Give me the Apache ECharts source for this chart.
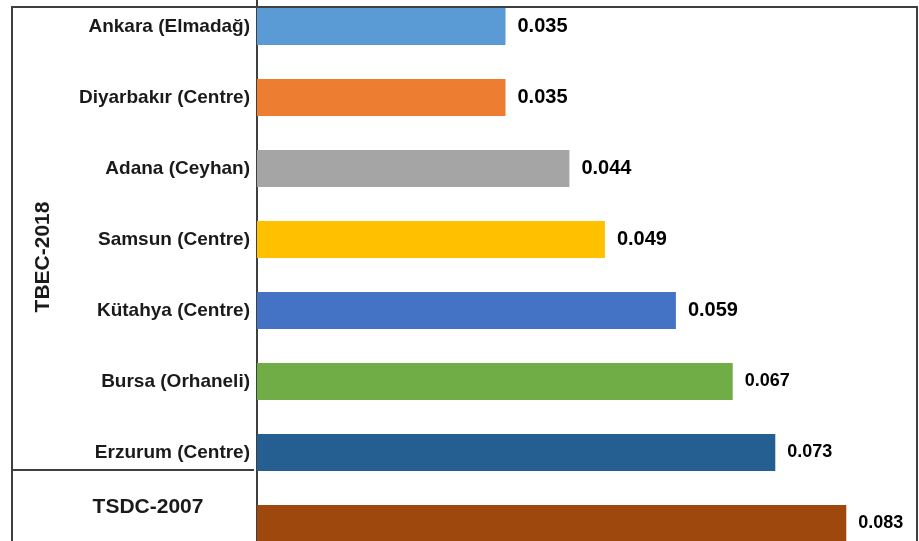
<!DOCTYPE html>
<html>
<head>
<meta charset="utf-8">
<script src="https://cdn.jsdelivr.net/npm/echarts@6/dist/echarts.min.js"></script>
<style>
  html, body { margin: 0; padding: 0; background: #fff; }
  #chart { width: 919px; height: 541px; }
</style>
</head>
<body>
<div id="chart"></div>
<script>
// Site categories, top to bottom
const categories = [
  'Ankara (Elmadağ)',
  'Diyarbakır (Centre)',
  'Adana (Ceyhan)',
  'Samsun (Centre)',
  'Kütahya (Centre)',
  'Bursa (Orhaneli)',
  'Erzurum (Centre)',
  ''
];
// Values per site
const values = [0.035, 0.035, 0.044, 0.049, 0.059, 0.067, 0.073, 0.083];
// Group labels
const groupTop = 'TBEC-2018';
const groupBottom = 'TSDC-2007';

const palette = ['#5B9BD5', '#ED7D31', '#A5A5A5', '#FFC000', '#4472C4', '#70AD47', '#255E91', '#9E480E'];
const frameColor = '#3f3f3f';
const font = '"Liberation Sans", Arial, sans-serif';

const chart = echarts.init(document.getElementById('chart'), null, { renderer: 'canvas' });

const seriesData = values.map((v, i) => ({
  value: v,
  itemStyle: { color: palette[i] },
  label: { fontSize: i >= 5 ? 18 : 20 }
}));

chart.setOption({
  animation: false,
  backgroundColor: '#ffffff',
  grid: {
    left: 257, top: -9, width: 710, height: 568,
    containLabel: false, outerBoundsMode: 'none'
  },
  xAxis: {
    type: 'value', min: 0, max: 0.1, show: false
  },
  yAxis: {
    type: 'category',
    data: categories,
    inverse: true,
    offset: 3,
    axisLine: { show: true, lineStyle: { color: frameColor, width: 2 } },
    axisTick: { show: false },
    axisLabel: {
      margin: 4,
      color: '#1a1a1a',
      fontFamily: font,
      fontWeight: 'bold',
      fontSize: 19
    }
  },
  series: [{
    type: 'bar',
    data: seriesData,
    barWidth: 37,
    label: {
      show: true,
      position: 'right',
      distance: 12,
      color: '#000',
      fontFamily: font,
      fontWeight: 'bold',
      formatter: p => p.value.toFixed(3)
    }
  }],
  graphic: [
    // outer frame
    { type: 'line', z: 100, shape: { x1: 12, y1: 7, x2: 918, y2: 7 }, style: { stroke: frameColor, lineWidth: 2 } },
    { type: 'line', z: 100, shape: { x1: 12, y1: 6, x2: 12, y2: 541 }, style: { stroke: frameColor, lineWidth: 2 } },
    { type: 'line', z: 100, shape: { x1: 917, y1: 6, x2: 917, y2: 541 }, style: { stroke: frameColor, lineWidth: 2 } },
    // divider between groups
    { type: 'line', z: 100, shape: { x1: 12, y1: 470, x2: 254, y2: 470 }, style: { stroke: frameColor, lineWidth: 2 } },
    {
      type: 'text', z: 100, x: 43, y: 257, rotation: Math.PI / 2,
      style: {
        text: groupTop, fill: '#1a1a1a', font: 'bold 21px ' + font,
        textAlign: 'center', textVerticalAlign: 'middle'
      }
    },
    {
      type: 'text', z: 100, x: 148, y: 507,
      style: {
        text: groupBottom, fill: '#1a1a1a', font: 'bold 21px ' + font,
        textAlign: 'center', textVerticalAlign: 'middle'
      }
    }
  ]
});
</script>
</body>
</html>
